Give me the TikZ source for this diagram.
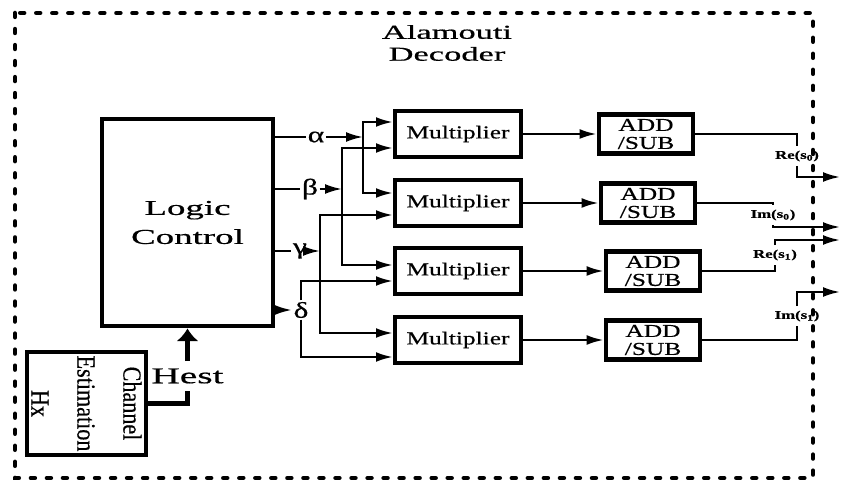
\documentclass[tikz,border=0pt]{standalone}
\usepackage{fontspec}
\setmainfont{Liberation Serif}
\newfontfamily\widefont[FakeStretch=1.4,FakeBold=0.6]{Liberation Serif}
\newfontfamily\xwidefont[FakeStretch=1.75,FakeBold=0.6]{Liberation Serif}
\newfontfamily\tallfont[FakeStretch=0.85,FakeBold=0.5]{Liberation Serif}
\usetikzlibrary{positioning,arrows.meta,calc}
\tikzset{every picture/.style={>={Latex[length=12pt,width=7pt]}}}

\begin{document}
\begin{tikzpicture}[
    x=0.025cm, y=-0.025cm,
    box/.style={draw, line width=3pt, inner sep=0pt},
    mult/.style={box, minimum width=3.15cm, minimum height=1.15cm,
        font=\widefont\fontsize{12.9}{15}\selectfont},
    addsub/.style={box, line width=3.5pt, minimum width=2.35cm, minimum height=0.98cm,
        align=center, font=\widefont\fontsize{12.9}{12.8}\selectfont},
    conn/.style={line width=1.6pt},
    hestline/.style={line width=3.5pt},
    greek/.style={inner sep=1pt, font=\widefont\fontsize{16}{18}\selectfont},
    outlbl/.style={inner sep=3pt, font=\widefont\bfseries\fontsize{8.5}{10}\selectfont}
]
    \useasboundingbox (0,0) rectangle (841,484);

    % decoder frame
    \draw[line width=3.2pt, line cap=round, dash pattern=on 2.8pt off 8.6pt]
        (15,13) rectangle (813,478);
    \node[align=center, font=\xwidefont\fontsize{14}{15.6}\selectfont] (title)
        at (447,43) {Alamouti\\Decoder};

    % blocks
    \node[box, line width=3.5pt, minimum width=4.275cm, minimum height=5.175cm,
        align=center, font=\xwidefont\fontsize{15}{20.6}\selectfont] (logic)
        at (187.5,222.5) {Logic\\Control};
    \node[box, line width=2.8pt, rotate=-90, minimum width=2.575cm, minimum height=2.975cm,
        align=center, font=\tallfont\fontsize{18.5}{32.7}\selectfont] (chest)
        at (86.5,403.5) {Channel\\Estimation\\Hx};

    \node[mult] (mult1) at (458,134) {Multiplier};
    \node[mult] (mult2) at (458,203) {Multiplier};
    \node[mult] (mult3) at (458,271) {Multiplier};
    \node[mult] (mult4) at (458,340) {Multiplier};

    \node[addsub] (add1) at (646,134) {ADD\\/SUB};
    \node[addsub] (add2) at (648,203) {ADD\\/SUB};
    \node[addsub] (add3) at (653,271) {ADD\\/SUB};
    \node[addsub] (add4) at (653,340) {ADD\\/SUB};

    % channel estimate into logic control
    \node[font=\xwidefont\fontsize{16}{18}\selectfont, inner sep=5pt] (hest)
        at (187.5,376) {Hest};
    \draw[hestline] (chest.north) -| (hest.south);
    \draw[hestline, -{Latex[length=9pt,width=16pt]}] (hest.north) -- (logic.south);

    % coefficients
    \node[greek] (alpha) at (316,137) {α};
    \node[greek] (beta) at (310,189) {β};
    \node[greek] (gamma) at (300,251) {γ};
    \node[greek] (delta) at (301,310) {δ};

    \coordinate (abus) at (363,137);
    \coordinate (a1) at (363,122);
    \coordinate (a2) at (363,193);
    \coordinate (bbus) at (342,189);
    \coordinate (b1) at (342,148);
    \coordinate (b2) at (342,265);
    \coordinate (cbus) at (320,251);
    \coordinate (c1) at (320,215);
    \coordinate (c2) at (320,333);
    \coordinate (d1) at (301,281);
    \coordinate (d2) at (301,357);

    \draw[conn] (logic.east |- alpha) -- (alpha);
    \draw[conn,->] (alpha) -- (abus);
    \draw[conn,<->] (a1 -| mult1.west) -- (a1) -- (a2) -- (a2 -| mult2.west);

    \draw[conn] (logic.east |- beta) -- (beta);
    \draw[conn,->] (beta) -- (bbus);
    \draw[conn,<->] (b1 -| mult1.west) -- (b1) -- (b2) -- (b2 -| mult3.west);

    \draw[conn] (logic.east |- gamma) -- (gamma);
    \draw[conn,->] (gamma) -- (cbus);
    \draw[conn,<->] (c1 -| mult2.west) -- (c1) -- (c2) -- (c2 -| mult4.west);

    \draw[conn,->] (logic.east |- delta) -- (delta);
    \draw[conn,->] (delta.north) -- (d1) -- (d1 -| mult3.west);
    \draw[conn,->] (delta.south) -- (d2) -- (d2 -| mult4.west);

    \foreach \i in {1,...,4}
        \draw[conn,->] (mult\i) -- (add\i);

    % outputs
    \node[outlbl] (re0) at (797,156) {Re(s\textsubscript{0})};
    \node[outlbl] (im0) at (773,215) {Im(s\textsubscript{0})};
    \node[outlbl] (re1) at (775,255) {Re(s\textsubscript{1})};
    \node[outlbl] (im1) at (797,316) {Im(s\textsubscript{1})};

    \coordinate (o1) at (840,177);
    \coordinate (o2) at (840,227);
    \coordinate (o3) at (840,240);
    \coordinate (o4) at (840,292);

    \draw[conn] (add1.east) -| (re0.north);
    \draw[conn,->] (re0.south) |- (o1);
    \draw[conn] (add2.east) -| (im0.north);
    \draw[conn,->] (im0.south) |- (o2);
    \draw[conn] (add3.east) -| (re1.south);
    \draw[conn,->] (re1.north) |- (o3);
    \draw[conn] (add4.east) -| (im1.south);
    \draw[conn,->] (im1.north) |- (o4);
\end{tikzpicture}
\end{document}
